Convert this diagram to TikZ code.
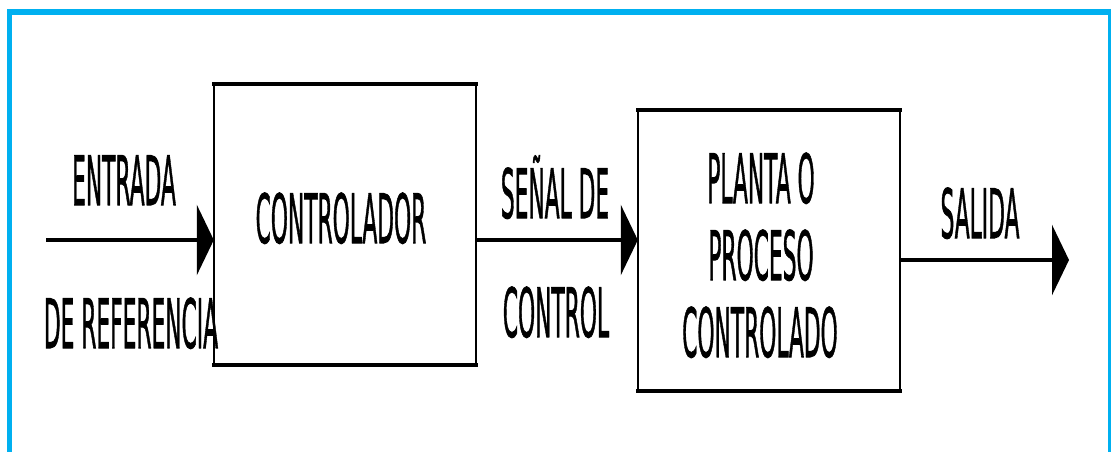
\documentclass[tikz,border=0pt]{standalone}
\usepackage{fontspec}
\setmainfont{DejaVu Sans}
\newfontfamily\lblfont{DejaVu Sans}[FakeBold=1.5]
\usepackage{graphicx}
\usetikzlibrary{arrows.meta}
\definecolor{framecyan}{HTML}{00B0F0}
% tall, narrow capitals
\newcommand{\condtxt}[1]{\scalebox{0.32}[1]{#1}}
\tikzset{
  lbl/.style={font=\lblfont\fontsize{68}{75}\selectfont, inner sep=0pt, anchor=base},
  blockbox/.style={draw=none, inner sep=0pt},
  hedge/.style={line width=4pt, line cap=rect},
  vedge/.style={line width=2.5pt},
  sigline/.style={line width=4pt, -{Triangle[length=17pt, width=70pt]}},
}
\begin{document}
\begin{tikzpicture}[x=1pt, y=-1pt]
\useasboundingbox (0,0) rectangle (1111,451);
% frame
\draw[framecyan, line width=5.5pt] (9.5,460) -- (9.5,12) -- (1110.5,12) -- (1110.5,460);

% blocks
\node[blockbox, minimum width=262pt, minimum height=281pt] (ctrl) at (345,224.5) {};
\node[blockbox, minimum width=262pt, minimum height=281pt] (plant) at (769,250.5) {};
\foreach \b in {ctrl, plant}{
  \draw[hedge] (\b.north west) -- (\b.north east);
  \draw[hedge] (\b.south west) -- (\b.south east);
  \draw[vedge] (\b.north west) -- (\b.south west);
  \draw[vedge] (\b.north east) -- (\b.south east);
}

% signal lines
\coordinate (ref) at (46,240);
\coordinate (out) at (1069,260);
\draw[sigline] (ref) -- (ref -| ctrl.west);
\draw[sigline] (ref -| ctrl.east) -- (ref -| plant.west);
\draw[sigline] (out -| plant.east) -- (out);

% labels
\node[lbl] (t1) at (124,205) {\condtxt{ENTRADA}};
\node[lbl] (t2) at (131,348) {\condtxt{DE REFERENCIA}};
\node[lbl] (t3) at (341,243) {\condtxt{CONTROLADOR}};
\node[lbl] (t4) at (555,218) {\condtxt{SEÑAL DE}};
\node[lbl] (t5) at (556,337) {\condtxt{CONTROL}};
\node[lbl] (t6) at (761,203) {\condtxt{PLANTA O}};
\node[lbl] (t7) at (761,280) {\condtxt{PROCESO}};
\node[lbl] (t8) at (760,357) {\condtxt{CONTROLADO}};
\node[lbl] (t9) at (980,238) {\condtxt{SALIDA}};
\end{tikzpicture}
\end{document}
